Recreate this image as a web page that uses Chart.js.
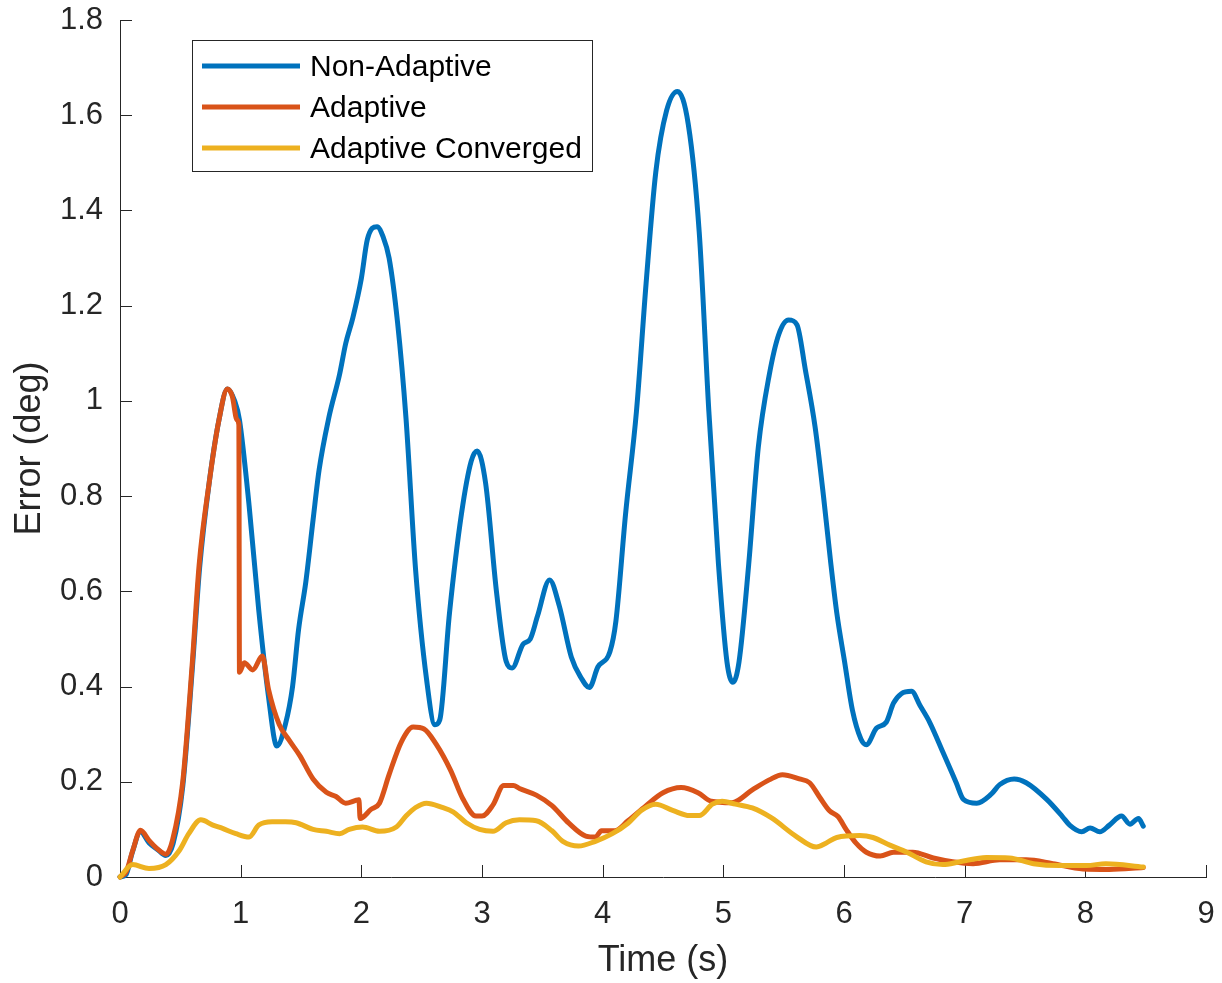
<!DOCTYPE html>
<html>
<head>
<meta charset="utf-8">
<title>Error vs Time</title>
<script src="https://cdn.jsdelivr.net/npm/chart.js@4.4.0/dist/chart.umd.min.js"></script>
<style>
    html, body { margin: 0; padding: 0; background: #ffffff; }
    #chart-wrap { width: 1222px; height: 983px; }
</style>
</head>
<body>
<div id="chart-wrap">
    <canvas id="error-chart" width="1222" height="983"></canvas>
</div>

<script>
    // values
    const seriesLabels = ['Non-Adaptive', 'Adaptive', 'Adaptive Converged'];
    const seriesColors = ['#0072BD', '#D95319', '#EDB120'];

    const nonAdaptiveTime = [0, 0.05, 0.1, 0.17, 0.24, 0.31, 0.38, 0.44, 0.52, 0.6, 0.66, 0.74, 0.82, 0.89, 0.95, 0.99,
        1.07, 1.15, 1.23, 1.3, 1.37, 1.43, 1.48, 1.54, 1.6, 1.65, 1.73, 1.82, 1.87, 1.93, 2.0, 2.05, 2.13, 2.18, 2.23,
        2.3, 2.37, 2.45, 2.54, 2.61, 2.65, 2.73, 2.83, 2.91, 2.96, 3.03, 3.12, 3.2, 3.25, 3.34, 3.4, 3.46, 3.56, 3.64,
        3.74, 3.82, 3.89, 3.96, 4.06, 4.11, 4.19, 4.28, 4.36, 4.44, 4.53, 4.62, 4.71, 4.8, 4.88, 4.96, 5.03, 5.08,
        5.13, 5.21, 5.29, 5.38, 5.46, 5.54, 5.61, 5.68, 5.76, 5.83, 5.89, 5.94, 6.005, 6.07, 6.14, 6.185, 6.27, 6.35,
        6.41, 6.475, 6.56, 6.63, 6.71, 6.82, 6.93, 6.99, 7.1, 7.22, 7.29, 7.41, 7.51, 7.68, 7.81, 7.87, 7.97, 8.04,
        8.12, 8.2, 8.3, 8.37, 8.44, 8.48];
    const nonAdaptiveError = [0, 0.005, 0.05, 0.095, 0.072, 0.058, 0.045, 0.07, 0.19, 0.44, 0.65, 0.83, 0.96, 1.025, 1.0, 0.96,
        0.78, 0.56, 0.38, 0.275, 0.32, 0.4, 0.52, 0.62, 0.75, 0.855, 0.964, 1.056, 1.12, 1.175, 1.257, 1.339, 1.366, 1.345, 1.3,
        1.165, 0.964, 0.644, 0.416, 0.32, 0.33, 0.553, 0.763, 0.873, 0.895, 0.827, 0.599, 0.453, 0.439, 0.489, 0.5, 0.548, 0.624, 0.57,
        0.462, 0.419, 0.398, 0.441, 0.473, 0.538, 0.763, 0.978, 1.247, 1.48, 1.61, 1.65, 1.58, 1.355, 0.978, 0.656, 0.452, 0.409,
        0.452, 0.656, 0.903, 1.054, 1.14, 1.17, 1.16, 1.065, 0.946, 0.8, 0.66, 0.555, 0.452, 0.35, 0.29, 0.278, 0.313, 0.325,
        0.365, 0.385, 0.39, 0.36, 0.325, 0.262, 0.198, 0.163, 0.155, 0.174, 0.194, 0.206, 0.198, 0.163, 0.127, 0.109, 0.095, 0.103,
        0.095, 0.109, 0.128, 0.111, 0.123, 0.107];

    const adaptiveTime = [0, 0.05, 0.105, 0.17, 0.24, 0.31, 0.38, 0.435, 0.52, 0.6, 0.656, 0.74, 0.82, 0.89, 0.93, 0.97, 0.985,
        0.99, 1.03, 1.1, 1.18, 1.23, 1.32, 1.4, 1.49, 1.6, 1.71, 1.79, 1.87, 1.98, 1.99, 2.08, 2.15, 2.23, 2.33, 2.43, 2.52,
        2.62, 2.74, 2.84, 2.95, 3.0, 3.09, 3.18, 3.26, 3.31, 3.45, 3.58, 3.72, 3.86, 3.94, 3.99, 4.1, 4.21, 4.36, 4.5, 4.65,
        4.79, 4.9, 5.07, 5.24, 5.38, 5.49, 5.63, 5.715, 5.8, 5.88, 5.95, 6.02, 6.1, 6.185, 6.3, 6.41, 6.57, 6.74, 6.9, 7.07,
        7.29, 7.51, 7.73, 7.98, 8.2, 8.48];
    const adaptiveError = [0, 0.01, 0.055, 0.098, 0.077, 0.059, 0.048, 0.077, 0.2, 0.453, 0.656, 0.83, 0.96, 1.025, 1.01, 0.96, 0.95,
        0.43, 0.45, 0.435, 0.464, 0.395, 0.32, 0.288, 0.255, 0.206, 0.178, 0.169, 0.155, 0.162, 0.123, 0.142, 0.155, 0.215, 0.283, 0.315, 0.311,
        0.279, 0.224, 0.165, 0.128, 0.128, 0.151, 0.192, 0.192, 0.186, 0.172, 0.15, 0.113, 0.086, 0.084, 0.097, 0.097, 0.118, 0.15, 0.177, 0.188,
        0.177, 0.159, 0.156, 0.183, 0.204, 0.215, 0.206, 0.198, 0.167, 0.139, 0.127, 0.099, 0.071, 0.052, 0.044, 0.052, 0.052, 0.04, 0.032, 0.028,
        0.036, 0.036, 0.028, 0.017, 0.016, 0.02];

    const convergedTime = [0, 0.105, 0.24, 0.38, 0.49, 0.57, 0.67, 0.77, 0.85, 0.96, 1.07, 1.15, 1.26, 1.37, 1.46, 1.6, 1.71,
        1.82, 1.9, 2.01, 2.15, 2.29, 2.37, 2.45, 2.54, 2.67, 2.76, 2.87, 2.98, 3.09, 3.2, 3.31, 3.45, 3.58, 3.67, 3.8, 3.94,
        4.08, 4.21, 4.32, 4.44, 4.58, 4.72, 4.8, 4.91, 4.99, 5.1, 5.24, 5.4, 5.6, 5.77, 5.85, 5.94, 6.13, 6.24, 6.38, 6.52,
        6.68, 6.82, 6.96, 7.18, 7.37, 7.57, 7.79, 8.01, 8.17, 8.48];
    const convergedError = [0, 0.026, 0.018, 0.026, 0.055, 0.091, 0.12, 0.109, 0.102, 0.091, 0.084, 0.109, 0.116, 0.116, 0.114, 0.1, 0.096,
        0.091, 0.1, 0.105, 0.096, 0.105, 0.128, 0.146, 0.155, 0.146, 0.137, 0.114, 0.1, 0.096, 0.114, 0.12, 0.118, 0.097, 0.075, 0.065, 0.075,
        0.091, 0.113, 0.14, 0.153, 0.14, 0.129, 0.129, 0.153, 0.159, 0.153, 0.145, 0.124, 0.086, 0.063, 0.071, 0.083, 0.087, 0.083, 0.067, 0.052,
        0.032, 0.026, 0.032, 0.041, 0.04, 0.028, 0.024, 0.024, 0.028, 0.021];

    const xTicks = [0, 1, 2, 3, 4, 5, 6, 7, 8, 9];
    const yTicks = [0, 0.2, 0.4, 0.6, 0.8, 1, 1.2, 1.4, 1.6, 1.8];

    const axisColor = '#262626';
    const fontFamily = '"Liberation Sans", Arial, Helvetica, sans-serif';

    function toPoints(xs, ys) {
        return xs.map((x, i) => ({x: x, y: ys[i]}));
    }

    // MATLAB style tick marks pointing into the plot
    const insideTicks = {
        id: 'insideTicks',
        beforeDatasetsDraw(chart) {
            const {ctx, chartArea, scales} = chart;
            ctx.save();
            ctx.strokeStyle = axisColor;
            ctx.lineWidth = 1;
            ctx.beginPath();
            xTicks.forEach(v => {
                const px = Math.round(scales.x.getPixelForValue(v)) + 0.5;
                ctx.moveTo(px, chartArea.bottom);
                ctx.lineTo(px, chartArea.bottom - 12);
            });
            yTicks.forEach(v => {
                const py = Math.round(scales.y.getPixelForValue(v)) + 0.5;
                ctx.moveTo(chartArea.left, py);
                ctx.lineTo(chartArea.left + 12, py);
            });
            ctx.stroke();
            ctx.restore();
        }
    };

    // boxed legend in the upper left of the axes
    const boxLegend = {
        id: 'boxLegend',
        afterDraw(chart) {
            const ctx = chart.ctx;
            const left = 192.5, top = 40.5, width = 400, height = 131;
            ctx.save();
            ctx.fillStyle = '#ffffff';
            ctx.fillRect(left, top, width, height);
            ctx.strokeStyle = axisColor;
            ctx.lineWidth = 1;
            ctx.strokeRect(left, top, width, height);
            ctx.font = '30px ' + fontFamily;
            ctx.textBaseline = 'middle';
            ctx.textAlign = 'left';
            const rows = [66, 107, 148];
            chart.data.datasets.forEach((ds, i) => {
                ctx.strokeStyle = ds.borderColor;
                ctx.lineWidth = 5;
                ctx.beginPath();
                ctx.moveTo(202, rows[i]);
                ctx.lineTo(300, rows[i]);
                ctx.stroke();
                ctx.fillStyle = '#000000';
                ctx.fillText(ds.label, 310, rows[i] + 2);
            });
            ctx.restore();
        }
    };

    const seriesData = [
        toPoints(nonAdaptiveTime, nonAdaptiveError),
        toPoints(adaptiveTime, adaptiveError),
        toPoints(convergedTime, convergedError)
    ];

    const ctx = document.getElementById('error-chart').getContext('2d');
    window.errorChart = new Chart(ctx, {
        type: 'line',
        data: {
            datasets: seriesLabels.map((label, i) => ({
                label: label,
                data: seriesData[i],
                borderColor: seriesColors[i],
                backgroundColor: seriesColors[i],
                borderWidth: 5,
                pointRadius: 0,
                fill: false,
                cubicInterpolationMode: 'monotone',
                borderJoinStyle: 'round',
                borderCapStyle: 'round',
                clip: false,
                order: 3 - i
            }))
        },
        options: {
            responsive: false,
            animation: false,
            layout: {padding: {top: 20, right: 16, left: 0, bottom: 0}},
            plugins: {
                legend: {display: false},
                tooltip: {enabled: false}
            },
            scales: {
                x: {
                    type: 'linear',
                    min: 0,
                    max: 9,
                    afterBuildTicks: scale => { scale.ticks = xTicks.map(v => ({value: v})); },
                    afterFit: scale => {
                        scale.height = 106;
                        scale.paddingLeft = 0;
                        scale.paddingRight = 0;
                    },
                    grid: {display: false, drawTicks: false},
                    border: {display: true, color: axisColor, width: 1},
                    ticks: {
                        color: axisColor,
                        font: {size: 31, family: fontFamily},
                        padding: 19,
                        maxRotation: 0
                    },
                    title: {
                        display: true,
                        text: 'Time (s)',
                        color: axisColor,
                        font: {size: 36, family: fontFamily},
                        padding: {top: 0, bottom: 0}
                    }
                },
                y: {
                    type: 'linear',
                    min: 0,
                    max: 1.8,
                    afterBuildTicks: scale => { scale.ticks = yTicks.map(v => ({value: v})); },
                    afterFit: scale => {
                        scale.width = 120;
                        scale.paddingTop = 0;
                        scale.paddingBottom = 0;
                    },
                    grid: {display: false, drawTicks: false},
                    border: {display: true, color: axisColor, width: 1},
                    ticks: {
                        color: axisColor,
                        font: {size: 31, family: fontFamily},
                        padding: 17,
                        callback: v => String(+v.toFixed(1))
                    },
                    title: {
                        display: true,
                        text: 'Error (deg)',
                        color: axisColor,
                        font: {size: 36, family: fontFamily},
                        padding: {top: 8, bottom: 0}
                    }
                }
            }
        },
        plugins: [insideTicks, boxLegend]
    });
</script>
</body>
</html>
